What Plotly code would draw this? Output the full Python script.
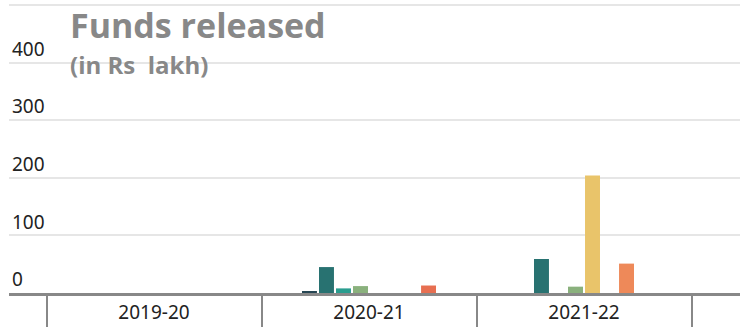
import plotly.graph_objects as go

years = ["2019-20", "2020-21", "2021-22"]
series_names = ["S1", "S2", "S3", "S4", "S5", "S6", "S7", "S8"]
series_colors = ["#264653", "#287271", "#2a9d8f", "#8ab17d",
                 "#e9c46a", "#f4a261", "#ee8959", "#e76f51"]
series_values = [
    [None, 3, None],
    [None, 45, 59],
    [None, 8, None],
    [None, 12, 11],
    [None, None, 204],
    [None, None, None],
    [None, None, 51],
    [None, 13, None],
]
y_ticks = [0, 100, 200, 300, 400, 500]
y_ticktext = ["0", "100", "200", "300", "400", ""]
title_text = "Funds released"
subtitle_text = "(in Rs\u00a0 lakh)"

fig = go.Figure()
for name, color, vals in zip(series_names, series_colors, series_values):
    fig.add_trace(go.Bar(x=years, y=vals, name=name, marker_color=color,
                         marker_line_width=0, hoverinfo="x+y+name"))

W, H = 744, 327
L, R, T, B = 9, 4, 2, 32
plot_w = W - L - R
cat_px = 215
first_center_px = 154
x0 = -(first_center_px - L) / cat_px
x1 = (W - R - first_center_px) / cat_px

fig.update_layout(
    width=W, height=H,
    margin=dict(l=L, r=R, t=T, b=B, pad=0),
    paper_bgcolor="white", plot_bgcolor="white",
    barmode="group", bargap=0.367, bargroupgap=0.12,
    showlegend=False,
    font=dict(family="Noto Sans", size=19, color="#222222"),
    xaxis=dict(
        type="category", range=[x0, x1],
        tickson="boundaries", ticks="outside", ticklen=32, tickwidth=2,
        tickcolor="#888888", showgrid=False,
        showline=True, linecolor="#888888", linewidth=3,
        tickfont=dict(family="Noto Sans", size=19, color="#222222"),
        fixedrange=True,
    ),
    yaxis=dict(
        range=[0, 505], tickmode="array", tickvals=y_ticks, ticktext=y_ticktext,
        ticklabelposition="inside top", showgrid=True, gridcolor="#e6e6e6",
        gridwidth=2, zeroline=False, showline=False, ticks="",
        tickfont=dict(family="Noto Sans", size=19, color="#222222"),
        fixedrange=True,
    ),
)

plot_h = H - T - B
def py(pixel_y):
    return (H - B - pixel_y) / plot_h
def px(pixel_x):
    return (pixel_x - L) / plot_w

fig.add_annotation(text=f"<b>{title_text}</b>", xref="paper", yref="paper",
                   x=px(68), y=py(25), xanchor="left", yanchor="middle",
                   showarrow=False,
                   font=dict(family="Open Sans", size=34, color="#888888"))
fig.add_annotation(text=f"<b>{subtitle_text}</b>", xref="paper", yref="paper",
                   x=px(68), y=py(65), xanchor="left", yanchor="middle",
                   showarrow=False,
                   font=dict(family="Open Sans", size=24, color="#888888"))

fig.write_html("out.html", config={"displayModeBar": False})
